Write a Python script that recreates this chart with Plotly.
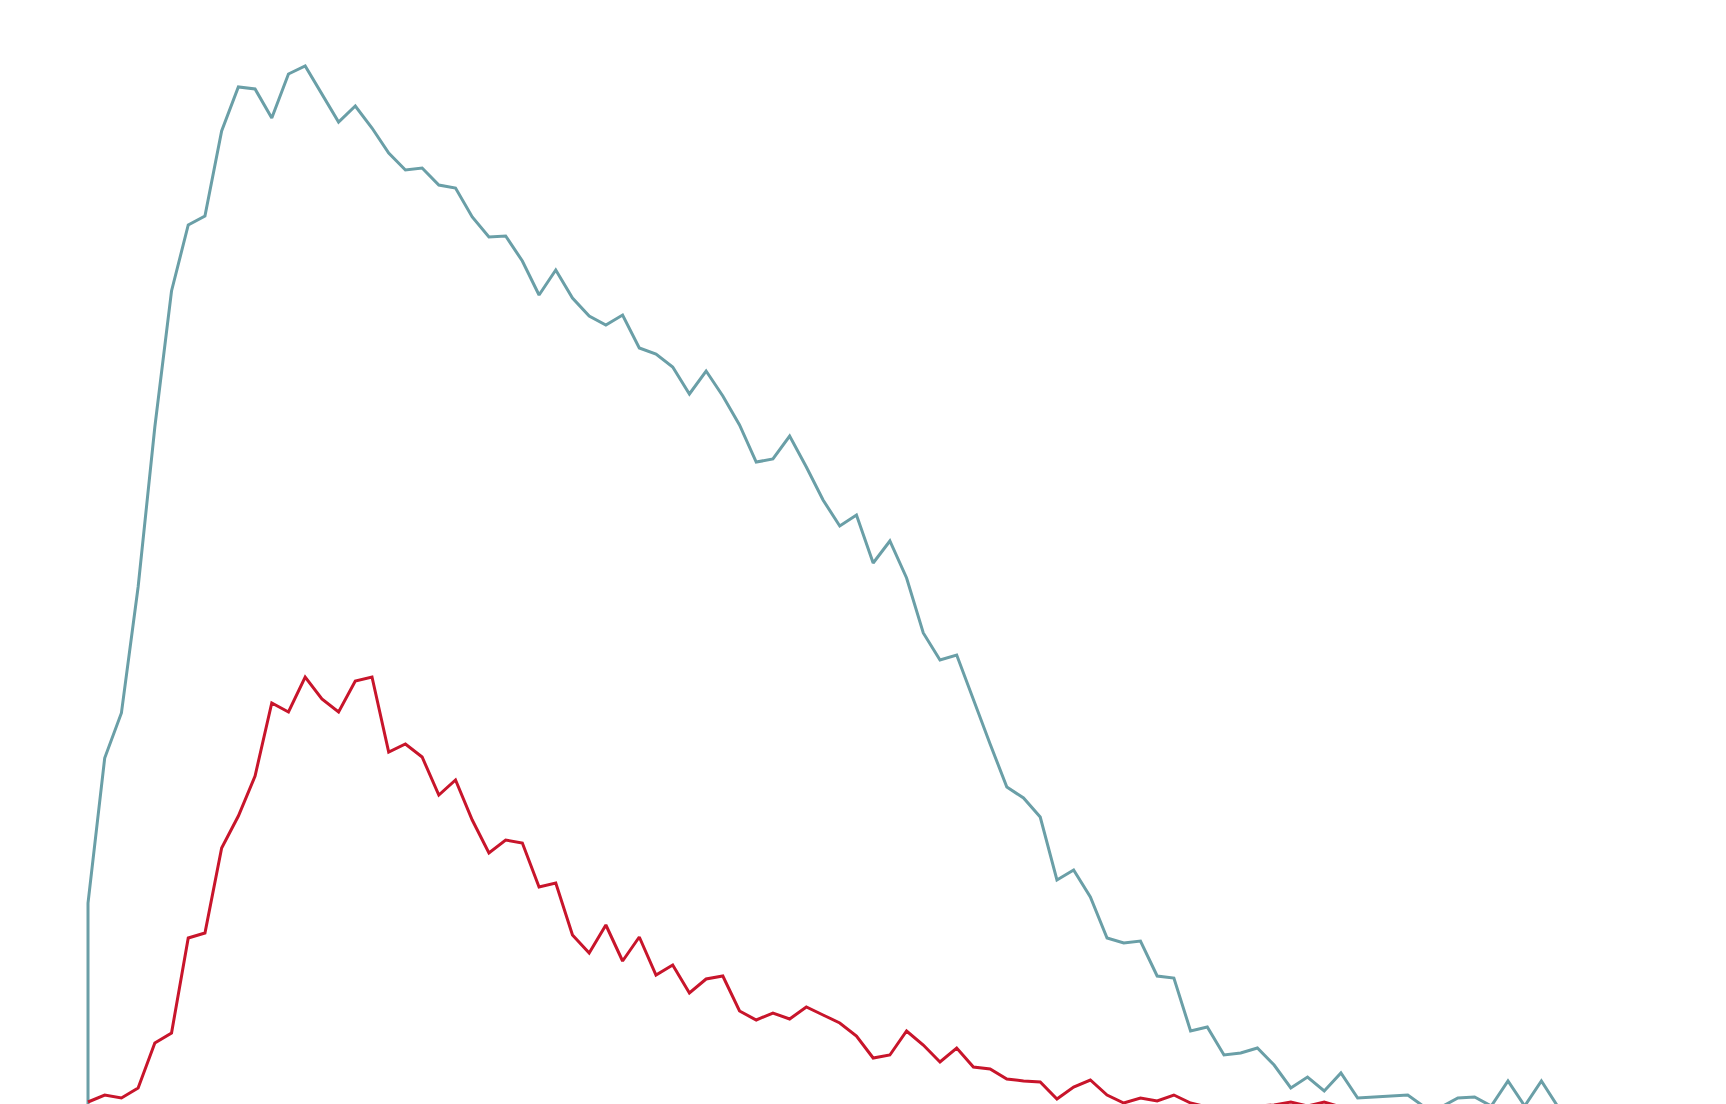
import plotly.graph_objects as go

# daily counts, day 0 .. 88
days = list(range(89))

teal_vals = [
    207, 352, 397, 523, 683, 819, 885, 894, 979, 1023,
    1021, 992, 1036, 1044, 1016, 988, 1004, 982, 957, 940,
    942, 925, 922, 893, 873, 874, 849, 815, 840, 812,
    794, 785, 795, 762, 756, 743, 716, 739, 714, 685,
    648, 651, 674, 643, 610, 584, 595, 547, 569, 532,
    477, 450, 455, 410, 366, 323, 312, 293, 230, 240,
    213, 172, 167, 169, 134, 132, 79, 83, 55, 57,
    62, 45, 22, 33, 19, 37, 12, 13, 14, 15,
    3, 3, 12, 13, 4, 29, 4, 29, 3,
]

red_vals = [
    8, 15, 12, 22, 67, 77, 172, 177, 262, 294,
    334, 407, 398, 433, 411, 398, 429, 433, 358, 366,
    353, 315, 330, 290, 257, 270, 267, 223, 227, 175,
    157, 185, 149, 173, 135, 145, 117, 131, 134, 99,
    90, 97, 91, 103, 95, 87, 74, 52, 55, 79,
    65, 48, 62, 43, 41, 31, 29, 28, 11, 23,
    30, 15, 7, 12, 9, 15, 7, 3, 2, 3,
    4, 5, 8, 4, 8, 3, 2, 3, 2, 4,
    3, 2, 1, 2, 3, 2, 1, 2, 2,
]

TEAL = "#6a9fa7"
RED = "#c8152b"

fig = go.Figure()
# teal series rises straight up from zero on the first day
fig.add_trace(go.Scatter(
    x=[days[0]] + days, y=[0] + teal_vals,
    mode="lines", line=dict(color=TEAL, width=3),
    hoverinfo="skip",
))
fig.add_trace(go.Scatter(
    x=days, y=red_vals,
    mode="lines", line=dict(color=RED, width=3),
    hoverinfo="skip",
))

fig.update_layout(
    width=1726, height=1104,
    margin=dict(l=0, r=0, t=0, b=0),
    paper_bgcolor="white", plot_bgcolor="white",
    showlegend=False,
    xaxis=dict(range=[-5.268, 98.05], visible=False, fixedrange=True),
    yaxis=dict(range=[6, 1110], visible=False, fixedrange=True),
)

fig.write_html("out.html", config={"displayModeBar": False},
               post_script="document.body.style.margin='0';")
